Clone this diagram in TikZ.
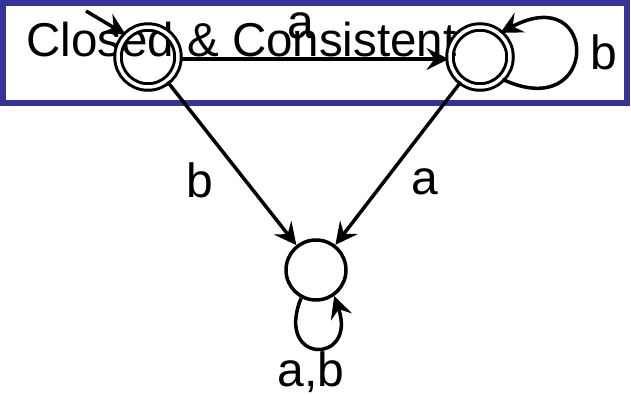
\documentclass[tikz,border=0pt]{standalone}
\usepackage{fontspec}
\setmainfont{Liberation Sans}
\usepackage{tikz}
\usetikzlibrary{arrows.meta, positioning, calc}
\definecolor{myblue}{rgb}{0.2, 0.2, 0.6}

\begin{document}
\begin{tikzpicture}[x=1pt, y=-1pt,
        edge/.style={line width=3.5pt, -{Stealth[length=22pt, width=22pt, inset=8pt]}},
        accept/.style={circle, draw, line width=3pt, double, double distance=3.5pt, inner sep=0pt, minimum size=60pt},
        plain/.style={circle, draw, line width=3.5pt, inner sep=0pt, minimum size=60pt},
        lab/.style={font=\fontsize{48}{48}\selectfont}]

                \useasboundingbox (0,0) rectangle (631,395);
                \draw[myblue, line width=5.5pt] (3,3) rectangle (627,103);
                \node[anchor=base west, inner sep=0pt, font=\fontsize{47.5}{47.5}\selectfont] (title) at (26,57) {Closed \& Consistent};

                \node[accept] (q0) at (148,57) {};
                \node[accept] (q1) at (480,57) {};
                \node[plain] (q2) at (316,270) {};
                \coordinate (start) at (86,11);

                \draw[edge] (start) -- (q0.135);
                \draw[edge] ([yshift=-2pt]q0.east) -- ([yshift=-2pt]q1.west);
                \draw[edge] (q0) -- (q2);
                \draw[edge] (q1) -- (q2);
                \draw[edge] (q1.-45) .. controls (600,125) and (600,-20) .. (q1.50);
                \draw[edge] (q2.-118) .. controls (274,365) and (358,365) .. (q2.-55);

                \node[lab] (la) at (301,26) {a};
                \node[lab] (lb) at (200,180) {b};
                \node[lab] (la2) at (425,182) {a};
                \node[lab] (lb2) at (604,52) {b};
                \node[lab] (lab) at (311,372) {a,b};
            \end{tikzpicture}
\end{document}
